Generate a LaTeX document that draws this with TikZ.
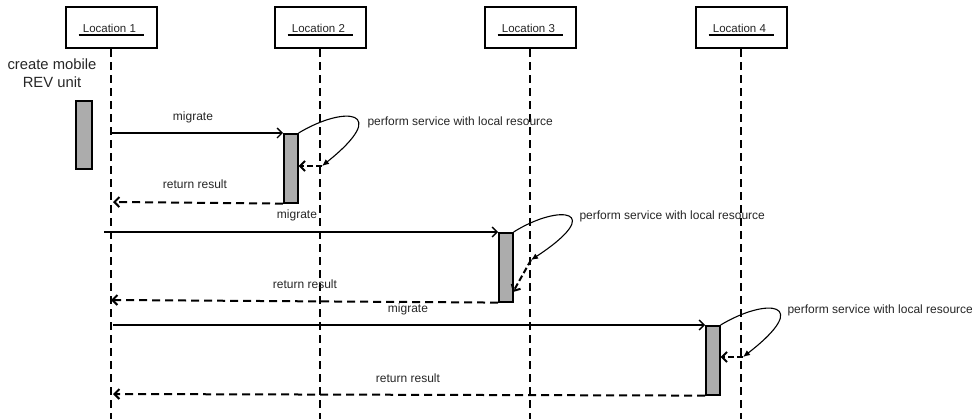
\documentclass[tikz,border=0pt]{standalone}
\usepackage{fontspec}
\setmainfont{Liberation Sans}
\usetikzlibrary{arrows.meta}

\tikzset{
  loc/.style={draw, line width=2pt, minimum width=91pt, minimum height=41pt,
    font=\fontsize{11.5}{13}\selectfont, text=black!85},
  life/.style={line width=2pt, dash pattern=on 8pt off 5pt},
  act/.style={draw, fill=gray!65, line width=1.6pt, minimum width=14pt,
    minimum height=69pt, inner sep=0pt, anchor=north west},
  msg/.style={line width=1.3pt, -{Straight Barb[length=5pt,width=10pt]}},
  ret/.style={line width=2pt, dash pattern=on 8pt off 5pt,
    -{Straight Barb[length=5pt,width=10pt]}},
  lbl/.style={font=\fontsize{12}{14}\selectfont, text=black!85},
  selfloop/.style={line width=1.1pt, -{Latex[length=7pt,width=6pt]}}
}

\begin{document}
\begin{tikzpicture}[x=1pt,y=-1pt]
\useasboundingbox (0,0) rectangle (972,419);
% locations and lifelines
\foreach \i/\x in {1/111,2/320,3/530,4/741}{
  \node[loc] (L\i) at (\x,28) {Location \i\ \ };
  \draw[line width=1.5pt] ([xshift=14pt,yshift=-3pt]L\i.base west) -- ([xshift=-14pt,yshift=-3pt]L\i.base east);
  \draw[life] (L\i.south) -- (L\i.south |- 0,419);
}
\node[font=\fontsize{14.8}{18}\selectfont, align=center, text=black!85] (create)
  at (52,73) {create mobile\\REV unit};
% activation boxes
\node[act, minimum width=16pt, minimum height=68pt] (a1) at (75,100) {};
\node[act] (a2) at (283,133) {};
\node[act] (a3) at (498,232) {};
\node[act] (a4) at (705,325) {};
% points on the lifelines
\coordinate (s2) at (111,133);
\coordinate (r2) at (113,202);
\coordinate (s3) at (104,232);
\coordinate (r3) at (111,300);
\coordinate (s4) at (113,325);
\coordinate (r4) at (113,394);
\coordinate (p2) at (322,166);
\coordinate (p3) at (531,260);
\coordinate (q3) at (513,292);
\coordinate (p4) at (743,357);
% migrate / return result
\draw[msg] (s2) -- (a2.north west);
\draw[ret] (a2.south west) -- (r2);
\draw[msg] (s3) -- (a3.north west);
\draw[ret] (a3.south west) -- (r3);
\draw[msg] (s4) -- (a4.north west);
\draw[ret] (a4.south west) -- (r4);
\node[lbl] (m2) at (193,117) {migrate};
\node[lbl] (b2) at (195,184) {return result};
\node[lbl] (m3) at (297,215) {migrate};
\node[lbl] (b3) at (305,284) {return result};
\node[lbl] (m4) at (408,309) {migrate};
\node[lbl] (b4) at (408,378) {return result};
% perform service
\draw[selfloop] (a2.north east) .. controls (345,105) and (392,110) .. (p2);
\draw[ret, dash pattern=on 6pt off 3pt] (p2) -- (a2.east |- p2);
\draw[selfloop] (a3.north east) .. controls (560,203) and (607,210) .. (p3);
\draw[ret, dash pattern=on 6pt off 3pt] (p3) -- (q3);
\draw[selfloop] (a4.north east) .. controls (767,297) and (814,302) .. (p4);
\draw[ret, dash pattern=on 6pt off 3pt] (p4) -- (a4.east |- p4);
\node[lbl, anchor=west] (ps2) at (364,122) {perform service with local resource};
\node[lbl, anchor=west] (ps3) at (576,216) {perform service with local resource};
\node[lbl, anchor=west] (ps4) at (784,310) {perform service with local resource};
\end{tikzpicture}
\end{document}
